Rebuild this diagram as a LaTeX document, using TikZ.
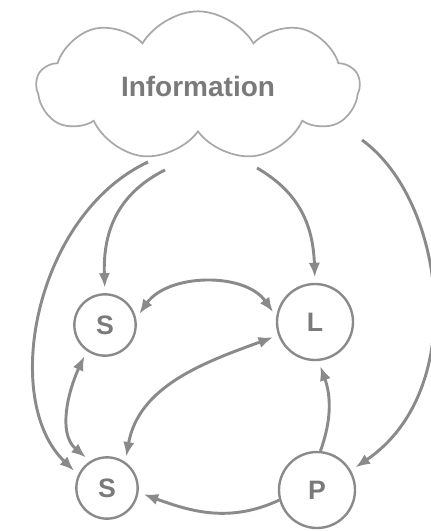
\documentclass[tikz,border=0pt]{standalone}
\usepackage{fontspec}
\setmainfont{Liberation Sans}
\usetikzlibrary{shapes.symbols,arrows.meta}
\definecolor{ln}{HTML}{8A8A8A}
\definecolor{cl}{HTML}{A8A8A8}
\definecolor{tx}{HTML}{7A7A7A}
\begin{document}
\begin{tikzpicture}[x=0.75pt,y=-0.75pt,
  ent/.style={circle,draw=ln,line width=1.8pt,text=tx,font=\bfseries\fontsize{20}{22}\selectfont,inner sep=0pt},
  small/.style={ent,minimum size=46pt},
  big/.style={ent,minimum size=57pt},
  con/.style={draw=ln,line width=2.2pt,-{Latex[length=11pt,width=8.5pt]},shorten >=4pt},
  bicon/.style={draw=ln,line width=2.2pt,{Latex[length=11pt,width=8.5pt]}-{Latex[length=11pt,width=8.5pt]},shorten >=4pt,shorten <=4pt}]
\useasboundingbox (0,0) rectangle (430,531);
\node[cloud,draw=cl,line width=1.3pt,cloud puffs=9,cloud puff arc=120,aspect=2.2,
  minimum width=242pt,minimum height=112pt,text=tx,
  font=\bfseries\fontsize{21}{24}\selectfont] (info) at (198,86) {Information};
\node[small] (st) at (105,325) {S};
\node[big] (lt) at (315,322) {L};
\node[small] (sb) at (107,488) {S};
\node[big] (p) at (317,490) {P};
\coordinate (c1) at (148,162);
\coordinate (c2) at (165,170);
\coordinate (c3) at (257,168);
\coordinate (c4) at (362,140);
\draw[con] (c1) .. controls (35,215) and (0,400) .. (sb.155);
\draw[con] (c2) .. controls (115,195) and (103,235) .. (st.north);
\draw[con] (c3) .. controls (295,190) and (313,220) .. (lt.north);
\draw[con] (c4) .. controls (445,200) and (470,390) .. (p.30);
\draw[bicon] (st.12) to[out=55,in=125] (lt.172);
\draw[bicon] (sb.55) to[out=80,in=200] (lt.200);
\draw[bicon] (st.235) to[out=245,in=140] (sb.122);
\draw[con] (p.85) to[out=70,in=-70] (lt.-85);
\draw[con] (p.195) to[out=205,in=-20] (sb.-8);
\end{tikzpicture}
\end{document}
